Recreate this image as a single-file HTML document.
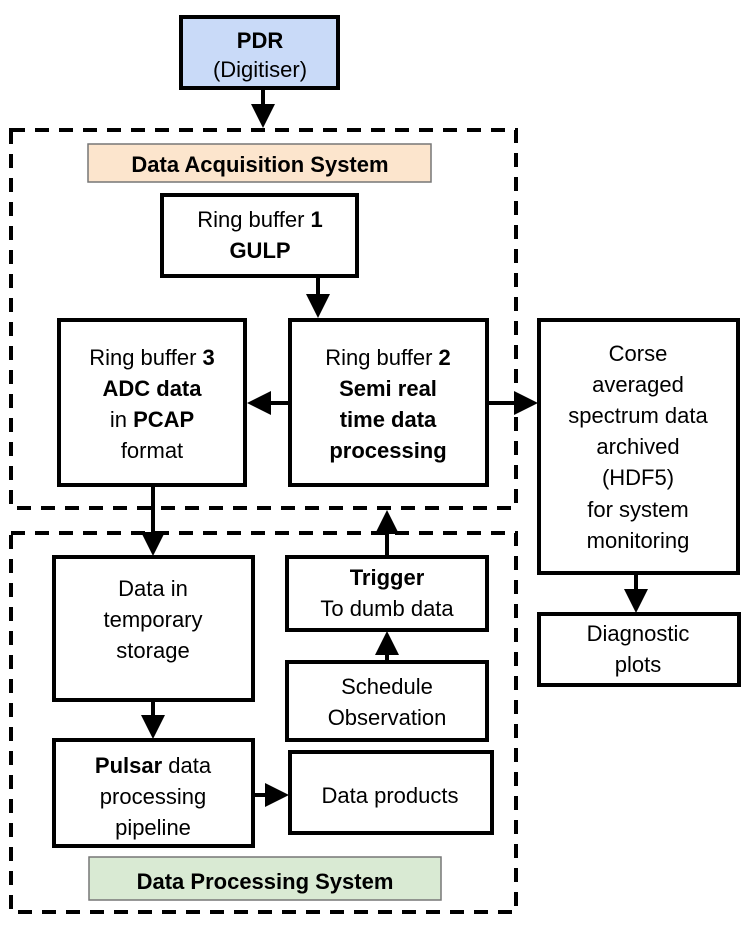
<!DOCTYPE html>
<html><head><meta charset="utf-8"><style>
html,body{margin:0;padding:0;background:#fff;}
svg text{font-family:"Liberation Sans",Arial,sans-serif;font-size:22px;fill:#000;text-anchor:middle;}
.b{font-weight:bold;}
</style></head><body>
<svg width="747" height="934" viewBox="0 0 747 934" xmlns="http://www.w3.org/2000/svg">
<defs>
<marker id="a" markerWidth="6" markerHeight="6" refX="5" refY="3" orient="auto" markerUnits="strokeWidth">
<path d="M0,0 L6,3 L0,6 z" fill="#000"/></marker>
</defs>
<g fill="none" stroke="#000" stroke-width="4" stroke-dasharray="14,10">
<rect x="11" y="130" width="505" height="378"/>
<rect x="11" y="533" width="505" height="379"/>
</g>
<rect x="88" y="144" width="343" height="38" fill="#fce5cd" stroke="#777" stroke-width="1.5"/>
<text x="260" y="172" class="b">Data Acquisition System</text>
<rect x="89" y="857" width="352" height="43" fill="#d9ead3" stroke="#777" stroke-width="1.5"/>
<text x="265" y="889" class="b">Data Processing System</text>
<g stroke="#000" stroke-width="4" fill="#fff">
<rect x="181" y="17" width="157" height="71" fill="#c9daf8"/>
<rect x="162" y="195" width="195" height="81"/>
<rect x="59" y="320" width="186" height="165"/>
<rect x="290" y="320" width="197" height="165"/>
<rect x="539" y="320" width="199" height="253"/>
<rect x="539" y="614" width="200" height="71"/>
<rect x="54" y="557" width="199" height="143"/>
<rect x="54" y="740" width="199" height="106"/>
<rect x="290" y="752" width="202" height="81"/>
<rect x="287" y="557" width="200" height="73"/>
<rect x="287" y="662" width="200" height="78"/>
</g>
<g stroke="#000" stroke-width="4" fill="none" marker-end="url(#a)">
<line x1="263" y1="88" x2="263" y2="124"/>
<line x1="318" y1="276" x2="318" y2="314"/>
<line x1="290" y1="403" x2="251" y2="403"/>
<line x1="487" y1="403" x2="534" y2="403"/>
<line x1="636" y1="573" x2="636" y2="609"/>
<line x1="153" y1="485" x2="153" y2="552"/>
<line x1="153" y1="700" x2="153" y2="735"/>
<line x1="253" y1="795" x2="285" y2="795"/>
<line x1="387" y1="662" x2="387" y2="635"/>
<line x1="387" y1="557" x2="387" y2="514"/>
</g>
<text x="260" y="48" class="b">PDR</text>
<text x="260" y="77">(Digitiser)</text>
<text x="260" y="227">Ring buffer <tspan class="b">1</tspan></text>
<text x="260" y="258" class="b">GULP</text>
<text x="152" y="365">Ring buffer <tspan class="b">3</tspan></text>
<text x="152" y="396" class="b">ADC data</text>
<text x="152" y="427">in <tspan class="b">PCAP</tspan></text>
<text x="152" y="458">format</text>
<text x="388" y="365">Ring buffer <tspan class="b">2</tspan></text>
<text x="388" y="396" class="b">Semi real</text>
<text x="388" y="427" class="b">time data</text>
<text x="388" y="458" class="b">processing</text>
<text x="638" y="361">Corse</text>
<text x="638" y="392">averaged</text>
<text x="638" y="423">spectrum data</text>
<text x="638" y="454">archived</text>
<text x="638" y="485">(HDF5)</text>
<text x="638" y="517">for system</text>
<text x="638" y="548">monitoring</text>
<text x="638" y="641">Diagnostic</text>
<text x="638" y="672">plots</text>
<text x="153" y="596">Data in</text>
<text x="153" y="627">temporary</text>
<text x="153" y="658">storage</text>
<text x="387" y="585" class="b">Trigger</text>
<text x="387" y="616">To dumb data</text>
<text x="387" y="694">Schedule</text>
<text x="387" y="725">Observation</text>
<text x="153" y="773"><tspan class="b">Pulsar</tspan> data</text>
<text x="153" y="804">processing</text>
<text x="153" y="835">pipeline</text>
<text x="390" y="803">Data products</text>
</svg>
</body></html>
